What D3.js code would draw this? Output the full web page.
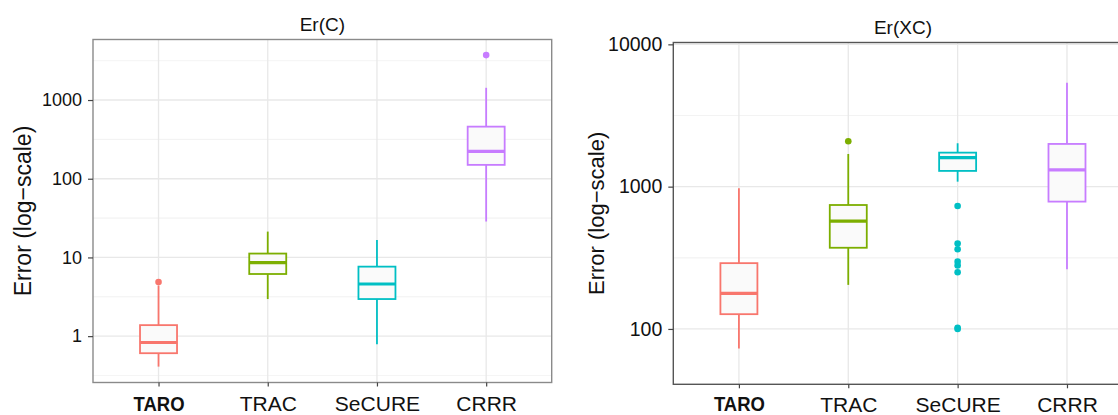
<!DOCTYPE html>
<html>
<head>
<meta charset="utf-8">
<script src="https://cdn.jsdelivr.net/npm/d3@7"></script>
<style>
  body { margin: 0; background: #fff; }
  svg { display: block; font-family: "Liberation Sans", Arial, Helvetica, sans-serif; }
</style>
</head>
<body>
<svg id="chart" width="1118" height="415"></svg>
<script>
(function () {

    var categories = ["TARO", "TRAC", "SeCURE", "CRRR"];
    var colors = ["#F8766D", "#7CAE00", "#00BFC4", "#C77CFF"];

    // Er(C) box stats
    var erC_low = [0.41, 2.96, 0.79, 28.6];
    var erC_q1 = [0.607, 6.16, 2.96, 150];
    var erC_median = [0.83, 8.6, 4.6, 223];
    var erC_q3 = [1.38, 11.2, 7.64, 459];
    var erC_high = [4.4, 21.3, 16.7, 1430];
    var erC_outliers = [[4.87], [], [], [3720]];
    var erC_ticks = [1, 10, 100, 1000];

    // Er(XC) box stats
    var erXC_low = [73, 204, 1084, 263];
    var erXC_q1 = [127, 372, 1290, 785];
    var erXC_median = [178, 572, 1600, 1310];
    var erXC_q3 = [290, 743, 1734, 1996];
    var erXC_high = [975, 1697, 2018, 5380];
    var erXC_outliers = [[], [2085], [732, 398, 363, 297, 279, 250, 102, 100], []];
    var erXC_ticks = [100, 1000, 10000];

    function pack(low, q1, med, q3, high, out) {
        return categories.map(function (c, i) {
            return { cat: c, color: colors[i], low: low[i], q1: q1[i], med: med[i], q3: q3[i], high: high[i], out: out[i] };
        });
    }

    var svg = d3.select('#chart');

    var panels = [
        {
            title: "Er(C)", data: pack(erC_low, erC_q1, erC_median, erC_q3, erC_high, erC_outliers),
            ticks: erC_ticks, domain: [Math.pow(10, -0.589), Math.pow(10, 3.769)],
            left: 93, right: 551.7, top: 39.5, bottom: 382.5,
            border: "#8a8a8a", tickFont: 18, titleFont: 19, yTitleFont: 23,
            titleY: 30.5, yTitleX: 30.5, labelDy: 28, boldDy: 28.5
        },
        {
            title: "Er(XC)", data: pack(erXC_low, erXC_q1, erXC_median, erXC_q3, erXC_high, erXC_outliers),
            ticks: erXC_ticks, domain: [Math.pow(10, 1.611), Math.pow(10, 4.013)],
            left: 673.3, right: 1132.6, top: 42.5, bottom: 384.3,
            border: "#555", tickFont: 19.5, titleFont: 19, yTitleFont: 22,
            titleY: 33.5, yTitleX: 604, labelDy: 28.2, boldDy: 26.5
        }
    ];

    panels.forEach(drawPanel);

    function drawPanel(p) {
        var g = svg.append('g');

        var xScale = d3.scalePoint()
            .domain(categories)
            .range([p.left, p.right])
            .padding(0.6);

        var yScale = d3.scaleLog()
            .domain(p.domain)
            .range([p.bottom, p.top]);

        // minor breaks half-way between decades
        var minor = [];
        p.ticks.forEach(function (t) {
            minor.push(t / Math.sqrt(10));
            minor.push(t * Math.sqrt(10));
        });
        minor = minor.filter(function (v) { return v > p.domain[0] && v < p.domain[1]; });

        g.append('rect')
            .attr('x', p.left).attr('y', p.top)
            .attr('width', p.right - p.left).attr('height', p.bottom - p.top)
            .attr('fill', '#fff');

        g.selectAll('line.minor')
            .data(minor)
            .enter()
            .append('line')
            .attr('x1', p.left).attr('x2', p.right)
            .attr('y1', function (d) { return yScale(d); })
            .attr('y2', function (d) { return yScale(d); })
            .attr('stroke', '#f2f2f2').attr('stroke-width', 0.8);

        g.selectAll('line.major')
            .data(p.ticks)
            .enter()
            .append('line')
            .attr('x1', p.left).attr('x2', p.right)
            .attr('y1', function (d) { return yScale(d); })
            .attr('y2', function (d) { return yScale(d); })
            .attr('stroke', '#e8e8e8').attr('stroke-width', 1.3);

        g.selectAll('line.vgrid')
            .data(categories)
            .enter()
            .append('line')
            .attr('x1', function (d) { return xScale(d); })
            .attr('x2', function (d) { return xScale(d); })
            .attr('y1', p.top).attr('y2', p.bottom)
            .attr('stroke', '#e8e8e8').attr('stroke-width', 1.3);

        var boxW = 37;
        var box = g.selectAll('g.box')
            .data(p.data)
            .enter()
            .append('g');

        // whiskers
        box.append('line')
            .attr('x1', function (d) { return xScale(d.cat); })
            .attr('x2', function (d) { return xScale(d.cat); })
            .attr('y1', function (d) { return yScale(d.q3); })
            .attr('y2', function (d) { return yScale(d.high); })
            .attr('stroke', function (d) { return d.color; })
            .attr('stroke-width', 1.8);
        box.append('line')
            .attr('x1', function (d) { return xScale(d.cat); })
            .attr('x2', function (d) { return xScale(d.cat); })
            .attr('y1', function (d) { return yScale(d.q1); })
            .attr('y2', function (d) { return yScale(d.low); })
            .attr('stroke', function (d) { return d.color; })
            .attr('stroke-width', 1.8);

        box.append('rect')
            .attr('x', function (d) { return xScale(d.cat) - boxW / 2; })
            .attr('y', function (d) { return yScale(d.q3); })
            .attr('width', boxW)
            .attr('height', function (d) { return yScale(d.q1) - yScale(d.q3); })
            .attr('fill', '#fafafa')
            .attr('stroke', function (d) { return d.color; })
            .attr('stroke-width', 1.8);

        box.append('line')
            .attr('x1', function (d) { return xScale(d.cat) - boxW / 2; })
            .attr('x2', function (d) { return xScale(d.cat) + boxW / 2; })
            .attr('y1', function (d) { return yScale(d.med); })
            .attr('y2', function (d) { return yScale(d.med); })
            .attr('stroke', function (d) { return d.color; })
            .attr('stroke-width', 3.2);

        box.selectAll('circle')
            .data(function (d) { return d.out.map(function (v) { return { v: v, cat: d.cat, color: d.color }; }); })
            .enter()
            .append('circle')
            .attr('r', 3.3)
            .attr('cx', function (d) { return xScale(d.cat); })
            .attr('cy', function (d) { return yScale(d.v); })
            .attr('fill', function (d) { return d.color; });

        g.append('rect')
            .attr('x', p.left).attr('y', p.top)
            .attr('width', p.right - p.left).attr('height', p.bottom - p.top)
            .attr('fill', 'none')
            .attr('stroke', p.border).attr('stroke-width', 1.4);

        // y axis
        var yAxis = g.append('g')
            .attr('transform', 'translate(' + p.left + ',0)')
            .call(d3.axisLeft(yScale).tickValues(p.ticks).tickSize(5).tickPadding(6).tickFormat(d3.format('d')));
        yAxis.select('.domain').remove();
        yAxis.selectAll('line').attr('stroke', '#444').attr('stroke-width', 1.2);
        yAxis.selectAll('text')
            .attr('font-size', p.tickFont)
            .attr('font-family', null)
            .attr('fill', '#111');

        // x axis
        var xAxis = g.append('g')
            .attr('transform', 'translate(0,' + p.bottom + ')')
            .call(d3.axisBottom(xScale).tickSize(4));
        xAxis.select('.domain').remove();
        xAxis.selectAll('line').attr('stroke', '#444').attr('stroke-width', 1.2);
        xAxis.selectAll('text')
            .attr('font-family', null)
            .attr('font-size', 21)
            .attr('fill', '#111')
            .attr('dy', null)
            .attr('y', function (d) { return d === 'TARO' ? p.boldDy : p.labelDy; })
            .attr('font-weight', function (d) { return d === 'TARO' ? 'bold' : null; })
            .each(function (d) {
                if (d === 'TARO') {
                    d3.select(this).attr('textLength', 51).attr('lengthAdjust', 'spacingAndGlyphs');
                }
            });

        // panel title
        g.append('text')
            .attr('x', (p.left + p.right) / 2)
            .attr('y', p.titleY)
            .attr('text-anchor', 'middle')
            .attr('font-size', p.titleFont)
            .attr('fill', '#111')
            .text(p.title);

        // y axis title
        g.append('text')
            .attr('transform', 'translate(' + p.yTitleX + ',' + ((p.top + p.bottom) / 2) + ') rotate(-90)')
            .attr('text-anchor', 'middle')
            .attr('font-size', p.yTitleFont)
            .attr('fill', '#111')
            .text('Error (log\u2212scale)');
    }
})();
</script>
</body>
</html>
